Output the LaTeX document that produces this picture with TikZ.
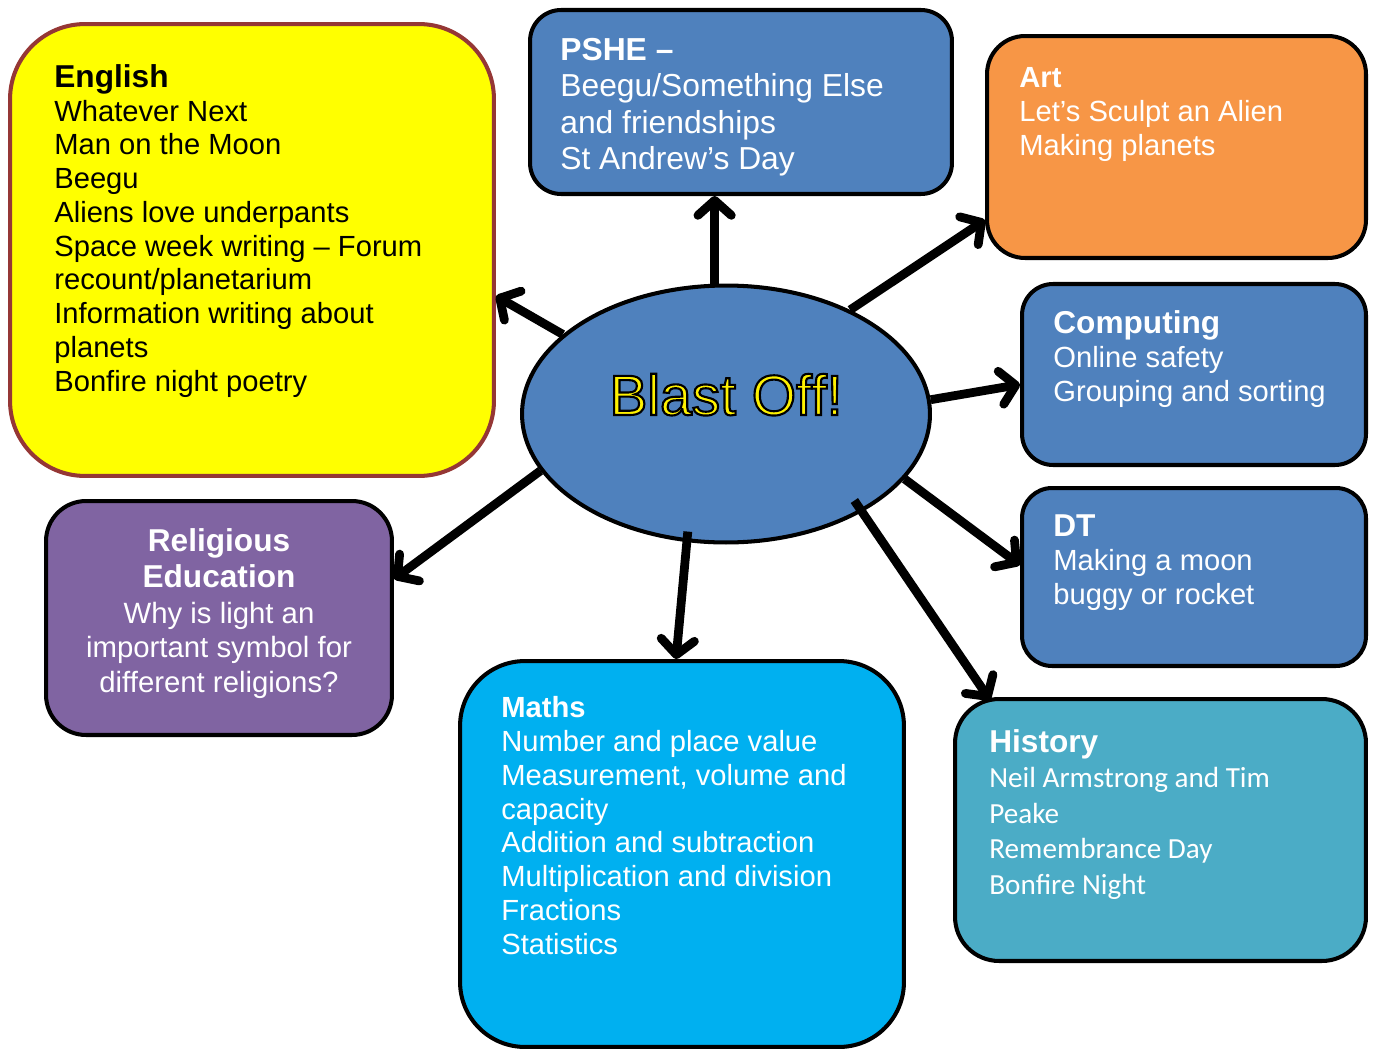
\documentclass[tikz,border=0pt]{standalone}
\usepackage{fontspec}
\setmainfont{Liberation Sans}
\newfontfamily\calibrifont{Carlito}
\usepackage{xcolor}
\usetikzlibrary{arrows.meta,shapes.geometric,calc}

\definecolor{engfill}{RGB}{255,255,0}
\definecolor{engline}{RGB}{149,55,53}
\definecolor{bluefill}{RGB}{79,129,189}
\definecolor{artfill}{RGB}{247,150,70}
\definecolor{hisfill}{RGB}{75,172,198}
\definecolor{mathsfill}{RGB}{0,176,240}
\definecolor{refill}{RGB}{128,100,162}

\newcommand{\bodysize}{\fontsize{16.6pt}{19.2pt}\selectfont}
\newcommand{\headsize}{\rmfamily\fontsize{18pt}{19.2pt}\selectfont\bfseries}

\begin{document}
\begin{tikzpicture}[x=0.02cm, y=-0.02cm,
  topic/.style={draw=black, line width=2.3pt, rectangle, inner sep=0pt},
  arr/.style={line width=5pt, -{Straight Barb[length=8.5pt,width=19pt,round]}},
  txt/.style={anchor=base west, align=left, inner sep=0pt, text=white, font=\bodysize}]

  \useasboundingbox (0,0) rectangle (1379,1051);

  \node[topic, draw=engline, fill=engfill, minimum width=9.68cm,
    minimum height=9.04cm, rounded corners=1.5cm] (english) at (252,250) {};
  \node[topic, fill=bluefill, minimum width=8.44cm,
    minimum height=3.68cm, rounded corners=0.62cm] (pshe) at (741,102) {};
  \node[topic, fill=artfill, minimum width=7.58cm,
    minimum height=4.44cm, rounded corners=0.76cm] (art) at (1176.5,147) {};
  \node[topic, fill=bluefill, minimum width=6.88cm,
    minimum height=3.62cm, rounded corners=0.62cm] (comp) at (1194,374.5) {};
  \node[topic, fill=bluefill, minimum width=6.88cm,
    minimum height=3.56cm, rounded corners=0.6cm] (dt) at (1194,577) {};
  \node[topic, fill=hisfill, minimum width=8.22cm,
    minimum height=5.24cm, rounded corners=0.88cm] (hist) at (1160.5,830) {};
  \node[topic, fill=mathsfill, minimum width=8.88cm,
    minimum height=7.72cm, rounded corners=1.3cm] (maths) at (682,854) {};
  \node[topic, fill=refill, minimum width=6.92cm,
    minimum height=4.68cm, rounded corners=0.8cm] (re) at (219,618) {};

  \node[ellipse, draw=black, line width=2.3pt, fill=bluefill, inner sep=0pt,
    minimum width=8.16cm, minimum height=5.14cm] (blast) at (726,414) {};

  % texts sit on the baseline of their last line
  \node[txt, text=black] (english-t) at (54,391)
    {{\headsize English}\\Whatever Next\\Man on the Moon\\Beegu\\
     Aliens love underpants\\Space week writing -- Forum\\recount/planetarium\\
     Information writing about\\planets\\Bonfire night poetry};
  \node[txt, font=\fontsize{18.1pt}{20.8pt}\selectfont] (pshe-t) at (560,170)
    {\textbf{PSHE --}\\Beegu/Something Else\\and friendships\\St Andrew’s Day};
  \node[txt] (art-t) at (1019,155)
    {\textbf{Art}\\Let’s Sculpt an Alien\\Making planets};
  \node[txt] (comp-t) at (1053,401)
    {{\headsize Computing}\\Online safety\\Grouping and sorting};
  \node[txt] (dt-t) at (1053,604)
    {{\headsize DT}\\Making a moon\\buggy or rocket};
  \node[txt, font=\calibrifont\fontsize{16.6pt}{20.2pt}\selectfont] (hist-t) at (989,894)
    {{\headsize History}\\Neil Armstrong and Tim\\Peake\\Remembrance Day\\Bonfire Night};
  \node[txt] (maths-t) at (501,954)
    {\textbf{Maths}\\Number and place value\\Measurement, volume and\\capacity\\
     Addition and subtraction\\Multiplication and division\\Fractions\\Statistics};
  \node[txt, anchor=base, align=center, font=\fontsize{16.7pt}{19.4pt}\selectfont] (re-t) at (219,692)
    {{\headsize Religious}\\[1.5pt]{\headsize Education}\\[1pt]Why is light an\\
     important symbol for\\different religions?};

  \node[anchor=base, inner sep=0pt, text=yellow, font=\fontsize{32.4pt}{36pt}\selectfont]
    (blast-t) at (726,415)
    {\special{pdf:literal direct 2 Tr 0 0 0 RG 1.2 w}Blast Off!\special{pdf:literal direct 0 Tr}};

  \draw[arr] (blast.95) -- (blast.95 |- pshe.south);
  \draw[arr] (blast.154) -- ($(english.east)+(0,46)$);
  \draw[arr] (blast.40) -- ($(art.west)+(0,73)$);
  \draw[arr] (blast.4) -- ($(comp.west)+(0,10)$);
  \draw[arr] (blast.-20) -- ($(dt.west)+(0,-12)$);
  \draw[arr] ($(blast.center)!0.91!(blast.-34)$) -- ($(hist.north west)+(37,3)$);
  \draw[arr] ($(blast.center)!0.92!(blast.-108)$) -- ($(maths.north)+(-6,0)$);
  \draw[arr] (blast.197) -- ($(re.east)+(0,-39)$);

\end{tikzpicture}
\end{document}
